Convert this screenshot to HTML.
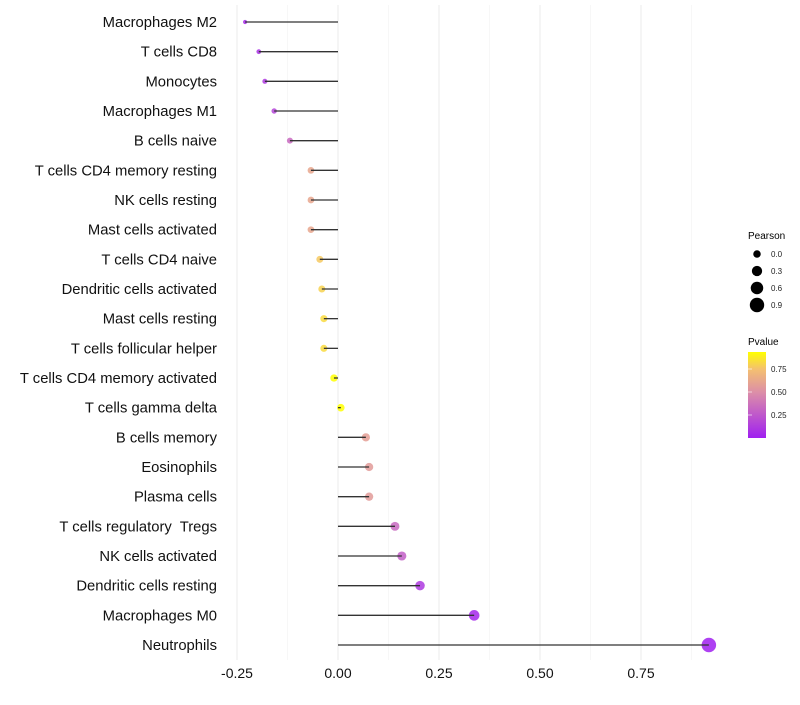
<!DOCTYPE html>
<html><head><meta charset="utf-8"><style>
body{margin:0;background:#fff;font-family:"Liberation Sans",sans-serif}
svg text{font-family:"Liberation Sans",sans-serif;white-space:pre}
</style></head><body>
<svg id="chart" width="800" height="700" xmlns="http://www.w3.org/2000/svg">
<defs><linearGradient id="pg" x1="0" y1="1" x2="0" y2="0">
<stop offset="0" stop-color="#a020f0"/><stop offset="0.53" stop-color="#dc8ea8"/><stop offset="0.8" stop-color="#f4c070"/><stop offset="1" stop-color="#ffff00"/></linearGradient></defs>
<g id="grid"></g>
<g id="marks"></g>
<g id="ylabels"></g>
<g id="xlabels"></g>
<g>
<text x="748" y="239" font-size="10">Pearson</text>
<g id="sizeLegend"></g>
</g>
<g>
<text x="748" y="345" font-size="10">Pvalue</text>
<rect x="748" y="352" width="18" height="86" fill="url(#pg)"/>
<g id="colorLegend"></g>
</g>
</svg>
<script>
const categories=["Macrophages M2","T cells CD8","Monocytes","Macrophages M1","B cells naive","T cells CD4 memory resting","NK cells resting","Mast cells activated","T cells CD4 naive","Dendritic cells activated","Mast cells resting","T cells follicular helper","T cells CD4 memory activated","T cells gamma delta","B cells memory","Eosinophils","Plasma cells","T cells regulatory  Tregs","NK cells activated","Dendritic cells resting","Macrophages M0","Neutrophils"];
const pearson=[-0.230,-0.196,-0.181,-0.158,-0.119,-0.067,-0.067,-0.067,-0.045,-0.040,-0.035,-0.035,-0.010,0.007,0.069,0.077,0.077,0.141,0.158,0.203,0.337,0.918];
const pvalue=[0.05,0.08,0.12,0.18,0.35,0.66,0.66,0.66,0.82,0.84,0.86,0.86,0.97,0.96,0.62,0.6,0.6,0.35,0.3,0.12,0.04,0.0];
const xTicks=[-0.25,0,0.25,0.5,0.75];
const xTickLabels=["-0.25","0.00","0.25","0.50","0.75"];
const sizeLegendVals=[0.0,0.3,0.6,0.9];
const colorLegendVals=[0.25,0.5,0.75];

const NS="http://www.w3.org/2000/svg";
const x=v=>338+v*404;
const y=i=>22+i*(623/21);
const r=v=>Math.sqrt(Math.max(3,14+42*v));
function lerp(a,b,t){return a+(b-a)*t}
const stops=[[0,[160,32,240]],[0.53,[220,142,168]],[0.8,[244,192,112]],[0.94,[255,255,0]],[1,[255,255,0]]];
function col(p){for(let k=1;k<stops.length;k++){if(p<=stops[k][0]){const a=stops[k-1],b=stops[k];const t=(p-a[0])/(b[0]-a[0]);return `rgb(${a[1].map((c,j)=>Math.round(lerp(c,b[1][j],t))).join(',')})`;}}return "rgb(255,255,0)";}
function mk(tag,attrs,parent){const e=document.createElementNS(NS,tag);for(const k in attrs)e.setAttribute(k,attrs[k]);parent.appendChild(e);return e;}
const grid=document.getElementById('grid'),marks=document.getElementById('marks'),yl=document.getElementById('ylabels'),xl=document.getElementById('xlabels');
for(let v=-0.25;v<=0.9;v+=0.125){const major=Math.abs(Math.round(v*4)-v*4)<1e-6;
const g=mk('line',{x1:x(v),x2:x(v),y1:5,y2:660,stroke:major?'#ebebeb':'#f5f5f5','stroke-width':major?1:0.8},grid);

}
xTicks.forEach((t,i)=>{const e=mk('text',{x:x(t),y:678,'font-size':14,'text-anchor':'middle',fill:'#111'},xl);e.textContent=xTickLabels[i];

});
categories.forEach((c,i)=>{
const t=mk('text',{x:217,y:y(i)+5,'font-size':14.8,'text-anchor':'end',fill:'#111'},yl);t.textContent=c;


const p=mk('circle',{cx:x(pearson[i]),cy:y(i),r:r(pearson[i]),fill:col(pvalue[i]),'fill-opacity':0.85},marks);


const l=mk('line',{x1:x(0),x2:x(pearson[i]),y1:y(i),y2:y(i),stroke:'#333','stroke-width':1.3},marks);


});
const sl=document.getElementById('sizeLegend');
sizeLegendVals.forEach((v,i)=>{const cy=254+i*17;
const c=mk('circle',{cx:757,cy:cy,r:r(v),fill:'#000'},sl);


const t=mk('text',{x:771,y:cy+3,'font-size':8,fill:'#222'},sl);t.textContent=v.toFixed(1);

});
const cl=document.getElementById('colorLegend');
colorLegendVals.forEach(v=>{const cy=438-v*92;
const tk=mk('line',{x1:748,x2:752,y1:cy,y2:cy,stroke:'#fff','stroke-opacity':0.6},cl);


const t=mk('text',{x:771,y:cy+3,'font-size':8,fill:'#222'},cl);t.textContent=v.toFixed(2);

});
</script>
</body></html>
